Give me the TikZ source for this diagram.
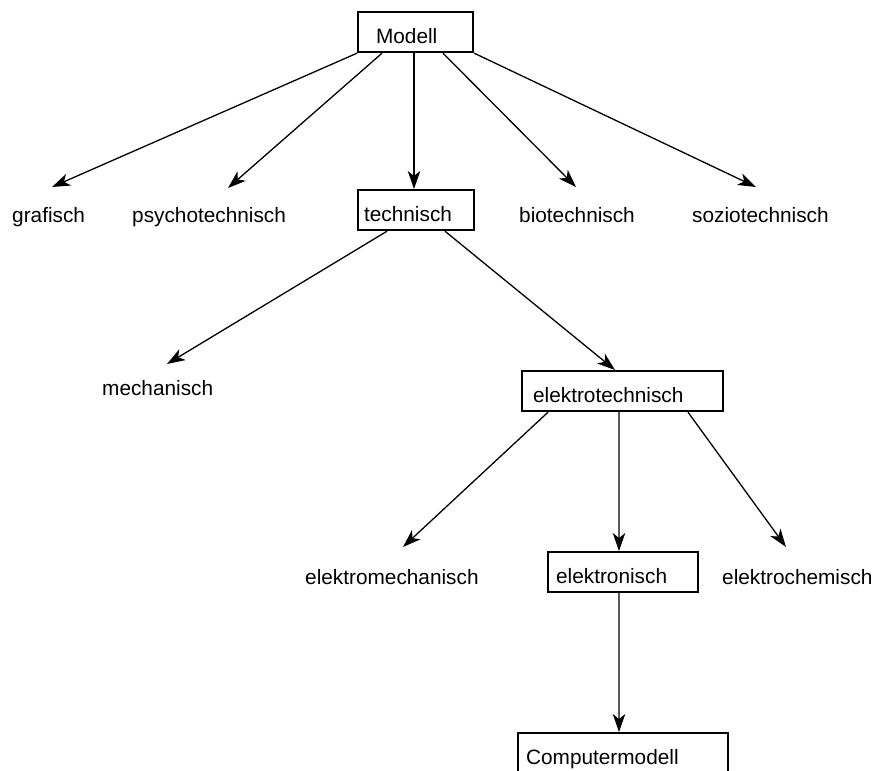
\documentclass[tikz,border=0pt]{standalone}
\usepackage{fontspec}
\setmainfont{Liberation Sans}
\usetikzlibrary{arrows.meta,calc}
\tikzset{
  box/.style={draw, line width=2.2bp, inner ysep=0pt, minimum height=40bp,
    text height=24bp, text depth=2bp, align=left, anchor=north west},
  lbl/.style={inner sep=0pt, anchor=base west},
  arr/.style={line width=1.3bp, -{Stealth[length=18bp,width=12.5bp,inset=5bp]}}
}
\begin{document}
\begin{tikzpicture}[x=1bp,y=-1bp,font=\fontsize{20.8bp}{24bp}\selectfont]
\clip (0,0) rectangle (879,771);
\fill[white] (0,0) rectangle (879,771);

% boxed categories
\node[box, minimum width=115bp, inner xsep=18bp, text width=79bp] (modell) at (357,11) {Modell};
\node[box, minimum width=116bp, inner xsep=6bp, text width=104bp] (technisch) at (357,189) {technisch};
\node[box, minimum width=201bp, inner xsep=11bp, text width=179bp] (elektrotechnisch) at (521,370) {elektrotechnisch};
\node[box, minimum width=150bp, inner xsep=8bp, text width=134bp] (elektronisch) at (547,551) {elektronisch};
\node[box, minimum width=210bp, inner xsep=8bp, text width=194bp] (computer) at (517,732) {Computermodell};

% plain labels
\node[lbl] (grafisch) at (12,222) {grafisch};
\node[lbl] (psycho) at (132,222) {psychotechnisch};
\node[lbl] (bio) at (519,222) {biotechnisch};
\node[lbl] (sozio) at (692,222) {soziotechnisch};
\node[lbl] (mechanisch) at (102,395) {mechanisch};
\node[lbl] (elmech) at (305,584) {elektromechanisch};
\node[lbl] (elchem) at (722,584) {elektrochemisch};

% connectors from Modell
\draw[arr] (modell.south west) -- ($(grafisch.base west)+(40,-35)$);
\draw[arr] ([xshift=25bp]modell.south west) -- ($(psycho.base west)+(96,-34)$);
\draw[arr] ([xshift=57bp]modell.south west) -- ([xshift=57bp]technisch.north west);
\draw[arr] ([xshift=86bp]modell.south west) -- ($(bio.base west)+(57,-35)$);
\draw[arr] (modell.south east) -- ($(sozio.base west)+(64,-35)$);

% connectors from technisch
\draw[arr] ([xshift=30bp]technisch.south west) -- ($(mechanisch.base west)+(65,-31)$);
\draw[arr] ([xshift=88bp]technisch.south west) -- ([xshift=94bp]elektrotechnisch.north west);

% connectors from elektrotechnisch
\draw[arr] ([xshift=27bp]elektrotechnisch.south west) -- ($(elmech.base west)+(98,-37)$);
\draw[arr] ([xshift=98bp]elektrotechnisch.south west) -- ([xshift=72bp]elektronisch.north west);
\draw[arr] ([xshift=167bp]elektrotechnisch.south west) -- ($(elchem.base west)+(64,-37)$);

% connector from elektronisch
\draw[arr] ([xshift=72bp]elektronisch.south west) -- ([xshift=102bp]computer.north west);
\end{tikzpicture}
\end{document}
